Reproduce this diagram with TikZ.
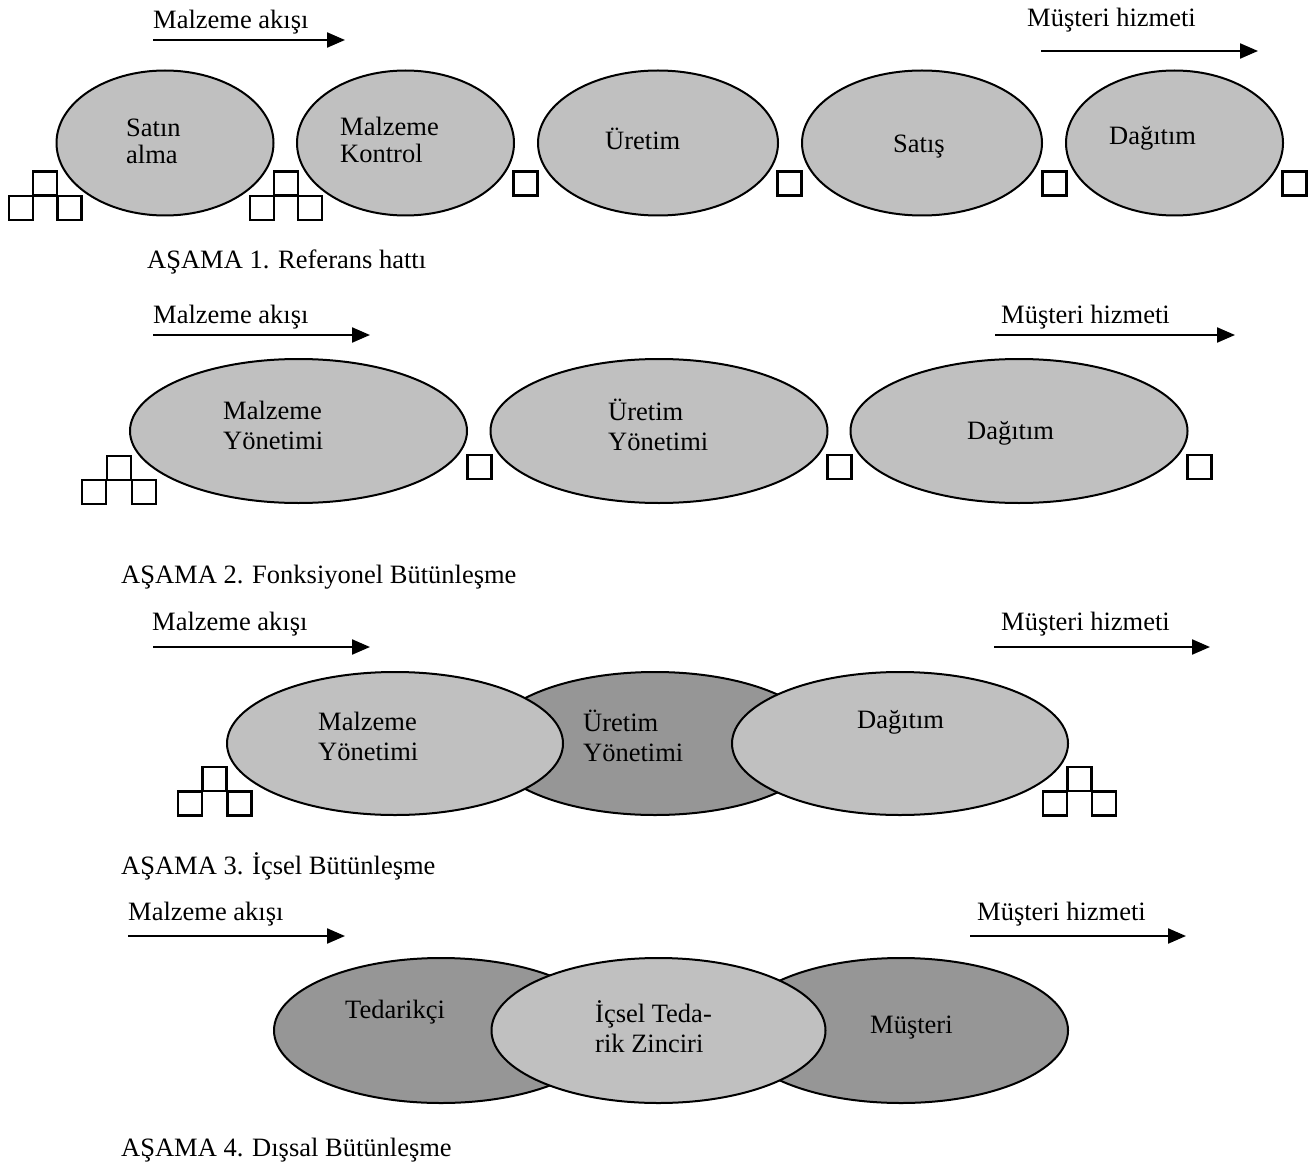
\documentclass[tikz,border=0pt]{standalone}
\usepackage{fontspec}
\setmainfont{Liberation Serif}
\usetikzlibrary{shapes.geometric,arrows.meta}
\definecolor{lg}{HTML}{C0C0C0}
\definecolor{dg}{HTML}{969696}
\begin{document}
\begin{tikzpicture}[x=1pt,y=-1pt,
  font=\fontsize{26.5}{30}\selectfont,
  ell/.style={ellipse, draw, line width=2pt, inner sep=0pt},
  lgell/.style={ell, fill=lg},
  dgell/.style={ell, fill=dg},
  txt/.style={align=left, inner sep=0pt, anchor=west},
  box/.style={draw, line width=2.4pt, minimum size=24pt, inner sep=0pt},
  flow/.style={line width=2.2pt, -{Triangle[length=18pt,width=15pt]}}]
\useasboundingbox (0,0) rectangle (1316,1166);

% ---------- Stage 1 ----------
\node[txt] (ma1) at (153,22) {Malzeme akışı};
\node[txt] (mh1) at (1027,20) {Müşteri hizmeti};
\coordinate (a1s) at (153,40); \coordinate (a1e) at (345,40);
\coordinate (b1s) at (1041,51); \coordinate (b1e) at (1258,51);
\draw[flow] (a1s) -- (a1e);
\draw[flow] (b1s) -- (b1e);

\node[lgell, minimum width=217pt, minimum height=145pt] (e11) at (165,143) {};
\node[lgell, minimum width=217pt, minimum height=145pt] (e12) at (405.5,143) {};
\node[lgell, minimum width=240pt, minimum height=145pt] (e13) at (658,143) {};
\node[lgell, minimum width=240pt, minimum height=145pt] (e14) at (922,143) {};
\node[lgell, minimum width=217pt, minimum height=145pt] (e15) at (1174.5,143) {};

\node[txt] (t11) at (126,141.5) {Satın\\[-3pt]alma};
\node[txt] (t12) at (340,139.5) {Malzeme\\[-3pt]Kontrol};
\node[txt] (t13) at (605,139) {Üretim};
\node[txt] (t14) at (893,147) {Satış};
\node[txt] (t15) at (1109,138) {Dağıtım};

\node[box] (s1a) at (21,208) {};
\node[box] (s1b) at (45,183.5) {};
\node[box] (s1c) at (69.5,208) {};
\node[box] (s1d) at (262,208) {};
\node[box] (s1e) at (286,183.5) {};
\node[box] (s1f) at (310,208) {};
\node[box] (s1g) at (525.5,183.5) {};
\node[box] (s1h) at (789.5,183.5) {};
\node[box] (s1i) at (1054.5,183.5) {};
\node[box] (s1j) at (1294.5,183.5) {};

\node[txt] (c1) at (147,262) {AŞAMA 1. Referans hattı};

% ---------- Stage 2 ----------
\node[txt] (ma2) at (153,317) {Malzeme akışı};
\node[txt] (mh2) at (1001,317) {Müşteri hizmeti};
\coordinate (a2s) at (153,335); \coordinate (a2e) at (370,335);
\coordinate (b2s) at (995,335); \coordinate (b2e) at (1235,335);
\draw[flow] (a2s) -- (a2e);
\draw[flow] (b2s) -- (b2e);

\node[lgell, minimum width=337pt, minimum height=144pt] (e21) at (298.5,431) {};
\node[lgell, minimum width=337pt, minimum height=144pt] (e22) at (659,431) {};
\node[lgell, minimum width=337pt, minimum height=144pt] (e23) at (1019,431) {};

\node[txt] (t21) at (223,425) {Malzeme\\Yönetimi};
\node[txt] (t22) at (608,425) {Üretim\\Yönetimi};
\node[txt] (t23) at (967,433) {Dağıtım};

\node[box] (s2a) at (94,492) {};
\node[box] (s2b) at (119,468) {};
\node[box] (s2c) at (144,492) {};
\node[box] (s2d) at (479.5,467) {};
\node[box] (s2e) at (839.5,467) {};
\node[box] (s2f) at (1199.5,467) {};

\node[txt] (c2) at (121,577) {AŞAMA 2. Fonksiyonel Bütünleşme};

% ---------- Stage 3 ----------
\node[txt] (ma3) at (152,624) {Malzeme akışı};
\node[txt] (mh3) at (1001,624) {Müşteri hizmeti};
\coordinate (a3s) at (153,647); \coordinate (a3e) at (370,647);
\coordinate (b3s) at (994,647); \coordinate (b3e) at (1210,647);
\draw[flow] (a3s) -- (a3e);
\draw[flow] (b3s) -- (b3e);

\node[dgell, minimum width=336pt, minimum height=143pt] (e32) at (655,743.5) {};
\node[lgell, minimum width=336pt, minimum height=143pt] (e31) at (395,743.5) {};
\node[lgell, minimum width=336pt, minimum height=143pt] (e33) at (900,743.5) {};

\node[txt] (t31) at (318,736) {Malzeme\\Yönetimi};
\node[txt] (t32) at (583,736) {Üretim\\Yönetimi};
\node[txt] (t33) at (857,722) {Dağıtım};

\node[box] (s3a) at (190,803.5) {};
\node[box] (s3b) at (214.5,779) {};
\node[box] (s3c) at (239.5,803.5) {};
\node[box] (s3d) at (1055,803.5) {};
\node[box] (s3e) at (1079.5,779) {};
\node[box] (s3f) at (1104,803.5) {};

\node[txt] (c3) at (121,866) {AŞAMA 3. İçsel Bütünleşme};

% ---------- Stage 4 ----------
\node[txt] (ma4) at (128,914) {Malzeme akışı};
\node[txt] (mh4) at (977,914) {Müşteri hizmeti};
\coordinate (a4s) at (128,936); \coordinate (a4e) at (345,936);
\coordinate (b4s) at (970,936); \coordinate (b4e) at (1186,936);
\draw[flow] (a4s) -- (a4e);
\draw[flow] (b4s) -- (b4e);

\node[dgell, minimum width=334pt, minimum height=145pt] (e41) at (441,1030.5) {};
\node[dgell, minimum width=334pt, minimum height=145pt] (e43) at (901,1030.5) {};
\node[lgell, minimum width=334pt, minimum height=145pt] (e42) at (658.5,1030.5) {};

\node[txt] (t41) at (345,1012) {Tedarikçi};
\node[txt] (t42) at (595,1027) {İçsel Teda-\\rik Zinciri};
\node[txt] (t43) at (870,1028) {Müşteri};

\node[txt] (c4) at (121,1150) {AŞAMA 4. Dışsal Bütünleşme};
\end{tikzpicture}
\end{document}
